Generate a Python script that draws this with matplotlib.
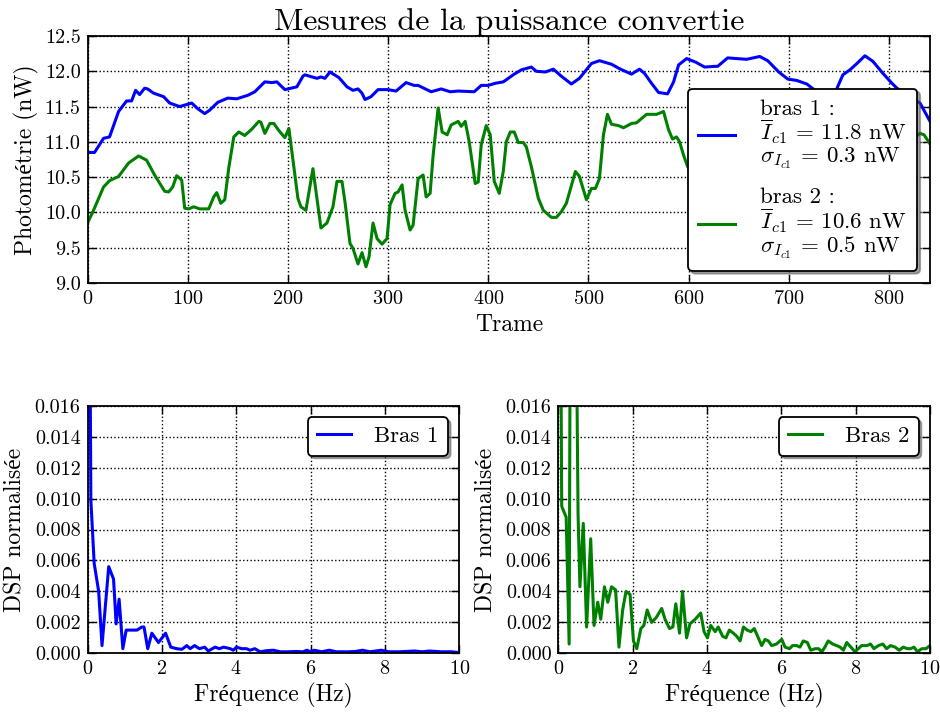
import matplotlib
matplotlib.use("Agg")
import matplotlib.pyplot as plt
from matplotlib.ticker import FormatStrFormatter, MultipleLocator

# ---------------- data ----------------
frames_b = [0, 7, 16, 22, 31, 39, 44, 48, 52, 57,
            60, 66, 76, 82, 92, 104, 110, 117, 122, 130,
            140, 149, 160, 167, 177, 184, 189, 197, 209, 215,
            217, 229, 233, 237, 242, 251, 259, 265, 270, 274,
            277, 283, 290, 300, 308, 318, 326, 330, 343, 353,
            362, 370, 386, 393, 400, 407, 415, 426, 433, 443,
            448, 457, 465, 473, 483, 491, 503, 511, 523, 532,
            543, 551, 556, 563, 570, 579, 585, 590, 598, 607,
            616, 626, 629, 639, 648, 658, 671, 679, 690, 699,
            708, 718, 728, 737, 746, 754, 761, 768, 776, 784,
            794, 803, 808, 820, 831, 841]
power_b = [10.85, 10.85, 11.05, 11.07, 11.43, 11.58, 11.58, 11.73, 11.67, 11.76,
           11.75, 11.69, 11.64, 11.55, 11.50, 11.55, 11.47, 11.40, 11.45, 11.56,
           11.62, 11.61, 11.66, 11.71, 11.85, 11.84, 11.85, 11.74, 11.78, 11.93,
           11.95, 11.90, 11.92, 11.90, 11.99, 11.91, 11.78, 11.73, 11.75, 11.69,
           11.60, 11.64, 11.74, 11.74, 11.72, 11.84, 11.80, 11.80, 11.71, 11.75,
           11.71, 11.72, 11.71, 11.80, 11.80, 11.83, 11.85, 11.96, 12.02, 12.06,
           12.00, 11.99, 12.03, 11.93, 11.82, 11.90, 12.11, 12.15, 12.10, 12.03,
           11.96, 12.03, 11.97, 11.83, 11.70, 11.68, 11.85, 12.09, 12.18, 12.13,
           12.06, 12.07, 12.07, 12.19, 12.18, 12.17, 12.21, 12.15, 11.99, 11.89,
           11.87, 11.82, 11.71, 11.62, 11.69, 11.95, 12.02, 12.11, 12.22, 12.14,
           11.97, 11.83, 11.76, 11.65, 11.55, 11.29]

frames_g = [0, 6, 16, 22, 31, 41, 51, 59, 67, 77,
            81, 85, 89, 94, 97, 101, 106, 112, 121, 126,
            129, 133, 137, 141, 146, 151, 157, 164, 171, 173,
            177, 182, 186, 191, 197, 201, 205, 210, 213, 218,
            225, 233, 239, 245, 249, 254, 257, 262, 265, 270,
            274, 278, 281, 285, 289, 294, 299, 302, 307, 310,
            314, 317, 322, 325, 330, 335, 338, 342, 345, 350,
            354, 359, 363, 370, 373, 377, 381, 387, 390, 393,
            398, 402, 406, 411, 415, 418, 422, 426, 430, 435,
            438, 443, 450, 455, 463, 468, 473, 478, 487, 491,
            498, 503, 507, 511, 515, 519, 523, 530, 535, 543,
            548, 558, 568, 575, 580, 584, 588, 591, 595, 599,
            610, 625, 640, 660, 680, 700, 720, 740, 760, 780,
            800, 820, 831, 835, 841]
power_g = [9.85, 10.03, 10.36, 10.45, 10.51, 10.70, 10.80, 10.74, 10.53, 10.30,
           10.29, 10.36, 10.52, 10.46, 10.06, 10.05, 10.08, 10.05, 10.05, 10.22,
           10.28, 10.13, 10.18, 10.63, 11.07, 11.14, 11.09, 11.18, 11.29, 11.28,
           11.12, 11.26, 11.26, 11.16, 11.06, 11.19, 10.75, 10.20, 10.08, 10.03,
           10.62, 9.78, 9.85, 10.08, 10.44, 10.44, 10.15, 9.56, 9.49, 9.27,
           9.43, 9.23, 9.37, 9.85, 9.63, 9.55, 9.63, 10.11, 10.27, 10.29,
           10.39, 10.03, 9.75, 9.82, 10.48, 10.53, 10.22, 10.27, 10.81, 11.48,
           11.14, 11.10, 11.24, 11.29, 11.22, 11.29, 11.00, 10.41, 10.43, 10.96,
           11.23, 11.10, 10.44, 10.27, 10.58, 11.00, 11.14, 11.14, 10.99, 10.99,
           10.93, 10.65, 10.20, 10.03, 9.93, 9.93, 10.01, 10.13, 10.58, 10.51,
           10.18, 10.34, 10.34, 10.48, 11.10, 11.39, 11.25, 11.23, 11.20, 11.26,
           11.27, 11.39, 11.39, 11.43, 11.17, 11.04, 11.07, 11.00, 10.81, 10.65,
           10.45, 10.60, 10.85, 10.95, 10.70, 10.55, 10.80, 11.00, 10.75, 10.60,
           10.85, 11.00, 11.12, 11.10, 10.97]

freq_1 = [0.0, 0.09, 0.18, 0.30, 0.39, 0.57, 0.70, 0.77, 0.85, 0.95,
          1.04, 1.19, 1.33, 1.46, 1.52, 1.62, 1.73, 1.91, 2.10, 2.24,
          2.40, 2.54, 2.67, 2.76, 2.88, 3.01, 3.15, 3.25, 3.43, 3.55,
          3.66, 3.84, 3.92, 4.01, 4.15, 4.28, 4.37, 4.50, 4.64, 4.82,
          5.00, 5.18, 5.40, 5.60, 5.80, 5.90, 6.00, 6.10, 6.30, 6.50,
          6.70, 7.00, 7.20, 7.40, 7.60, 7.90, 8.10, 8.40, 8.80, 9.00,
          9.20, 9.50, 9.80, 10.0]
dsp_1 = [0.05, 0.0099, 0.0058, 0.0040, 0.0005, 0.0056, 0.0048, 0.0019, 0.0035, 0.0003,
         0.0015, 0.0015, 0.0015, 0.0017, 0.0017, 0.0003, 0.0013, 0.0007, 0.0013, 0.0004,
         0.0003, 0.00026, 0.0005, 0.0003, 0.0005, 0.0003, 0.0004, 0.00015, 0.0004, 0.0003,
         0.0004, 0.0003, 0.0002, 0.0004, 0.0003, 0.0003, 0.0002, 0.0003, 0.0001, 0.00017,
         0.0002, 0.0001, 0.0001, 0.00012, 0.0001, 0.0002, 0.0001, 0.0002, 0.0001, 0.0002,
         0.0001, 0.0001, 0.00012, 0.0002, 0.0001, 0.0002, 0.0001, 0.0001, 0.00015, 0.0001,
         0.00015, 0.0001, 0.0001, 0.00005]

freq_2 = [0.0, 0.09, 0.21, 0.29, 0.33, 0.47, 0.53, 0.58, 0.67, 0.76,
          0.87, 0.96, 1.06, 1.14, 1.24, 1.33, 1.43, 1.54, 1.63, 1.73,
          1.82, 1.93, 2.02, 2.11, 2.22, 2.30, 2.39, 2.51, 2.63, 2.78,
          2.87, 2.99, 3.08, 3.16, 3.26, 3.34, 3.45, 3.54, 3.68, 3.83,
          3.92, 4.01, 4.10, 4.22, 4.30, 4.42, 4.51, 4.60, 4.71, 4.80,
          4.89, 4.98, 5.08, 5.18, 5.27, 5.38, 5.47, 5.56, 5.65, 5.74,
          5.87, 6.01, 6.10, 6.22, 6.30, 6.41, 6.50, 6.59, 6.70, 6.79,
          6.91, 7.00, 7.09, 7.17, 7.26, 7.38, 7.49, 7.58, 7.67, 7.76,
          7.87, 7.98, 8.07, 8.16, 8.30, 8.40, 8.49, 8.61, 8.73, 8.83,
          8.94, 9.06, 9.17, 9.28, 9.39, 9.48, 9.57, 9.66, 9.78, 9.89,
          10.0]
dsp_2 = [0.05, 0.0095, 0.0088, 0.0006, 0.03, 0.025, 0.009, 0.0043, 0.0084, 0.0017,
         0.0074, 0.0018, 0.0033, 0.0022, 0.0043, 0.0033, 0.0043, 0.0041, 0.0004, 0.0028,
         0.0040, 0.0038, 0.0008, 0.0003, 0.0016, 0.0018, 0.0028, 0.0020, 0.0023, 0.0029,
         0.0022, 0.0016, 0.0017, 0.0032, 0.0013, 0.0040, 0.0010, 0.0019, 0.0022, 0.0026,
         0.0014, 0.0010, 0.0018, 0.0014, 0.0017, 0.0011, 0.0010, 0.0015, 0.0013, 0.0011,
         0.0008, 0.0017, 0.0015, 0.0014, 0.0016, 0.0010, 0.0005, 0.0009, 0.0008, 0.0005,
         0.0006, 0.0009, 0.0004, 0.0003, 0.0005, 0.0005, 0.0004, 0.0008, 0.0007, 0.0002,
         0.0003, 0.0003, 0.0001, 0.0004, 0.0008, 0.0006, 0.0005, 0.0004, 0.0002, 0.0007,
         0.0004, 0.0001, 0.0003, 0.0005, 0.0005, 0.0006, 0.0003, 0.0005, 0.0006, 0.0003,
         0.0005, 0.0004, 0.0002, 0.0004, 0.0003, 0.0003, 0.0004, 0.0001, 0.0003, 0.0003,
         0.0005]

label_b = "bras 1 :\n$\\overline{I}_{c1}$ = 11.8 nW\n$\\sigma_{I_{c1}}$ = 0.3 nW"
label_g = "bras 2 :\n$\\overline{I}_{c1}$ = 10.6 nW\n$\\sigma_{I_{c1}}$ = 0.5 nW"

# ---------------- style ----------------
plt.rcParams['font.family'] = ['cmr10', 'Liberation Serif']
plt.rcParams['mathtext.fontset'] = 'cm'
plt.rcParams['axes.formatter.use_mathtext'] = True
plt.rcParams['axes.unicode_minus'] = False

BLUE = (0, 0, 1)
GREEN = (0, 0.5, 0)
LW = 2.2
TICK_FS = 14.5
LABEL_FS = 17


def style_axes(ax):
    ax.tick_params(direction='in', top=True, right=True, length=6, width=1,
                   labelsize=TICK_FS, pad=5)
    ax.grid(True, color='k', linestyle=':', linewidth=1.0)
    for s in ax.spines.values():
        s.set_linewidth(1.3)


fig = plt.figure(figsize=(9.4, 7.13), dpi=100)
fig.patch.set_facecolor('white')

ax0 = fig.add_axes([0.0931, 0.6031, 0.8963, 0.3464])
ax1 = fig.add_axes([0.0931, 0.0837, 0.3955, 0.3473])
ax2 = fig.add_axes([0.5940, 0.0837, 0.3954, 0.3473])

# --- top ---
ax0.plot(frames_b, power_b, color=BLUE, lw=LW, label=label_b)
ax0.plot(frames_g, power_g, color=GREEN, lw=LW, label=label_g)
ax0.set_xlim(0, 841)
ax0.set_ylim(9.0, 12.5)
ax0.xaxis.set_major_locator(MultipleLocator(100))
ax0.yaxis.set_major_locator(MultipleLocator(0.5))
ax0.yaxis.set_major_formatter(FormatStrFormatter('%.1f'))
style_axes(ax0)
ax0.set_xlabel('Trame', fontsize=LABEL_FS, labelpad=4)
ax0.set_ylabel('Photométrie (nW)', fontsize=LABEL_FS, labelpad=4)
ax0.set_title('Mesures de la puissance convertie', fontsize=23, pad=4)
leg0 = ax0.legend(loc='lower right', bbox_to_anchor=(0.985, 0.049), borderaxespad=0,
                  fontsize=16.5, shadow=True, fancybox=True, framealpha=1,
                  edgecolor='k', labelspacing=0.75, handlelength=1.6,
                  handletextpad=1.1, borderpad=0.45)
leg0.get_frame().set_linewidth(1.3)
for t in leg0.get_texts():
    t.set_linespacing(0.95)

# --- bottom ---
for ax, f, d, col, lab in [(ax1, freq_1, dsp_1, BLUE, 'Bras 1'),
                           (ax2, freq_2, dsp_2, GREEN, 'Bras 2')]:
    ax.plot(f, d, color=col, lw=LW, label=lab)
    ax.set_xlim(0, 10)
    ax.set_ylim(0, 0.016)
    ax.xaxis.set_major_locator(MultipleLocator(2))
    ax.yaxis.set_major_locator(MultipleLocator(0.002))
    ax.yaxis.set_major_formatter(FormatStrFormatter('%.3f'))
    style_axes(ax)
    ax.set_xlabel('Fréquence (Hz)', fontsize=LABEL_FS, labelpad=3)
    ax.set_ylabel('DSP normalisée', fontsize=LABEL_FS, labelpad=6)
    lg = ax.legend(loc='upper right', fontsize=16.5, shadow=True, fancybox=True,
                   framealpha=1, edgecolor='k', handlelength=1.5,
                   handletextpad=1.0)
    lg.get_frame().set_linewidth(1.3)

fig.savefig('out.png', dpi=100, facecolor='white')
